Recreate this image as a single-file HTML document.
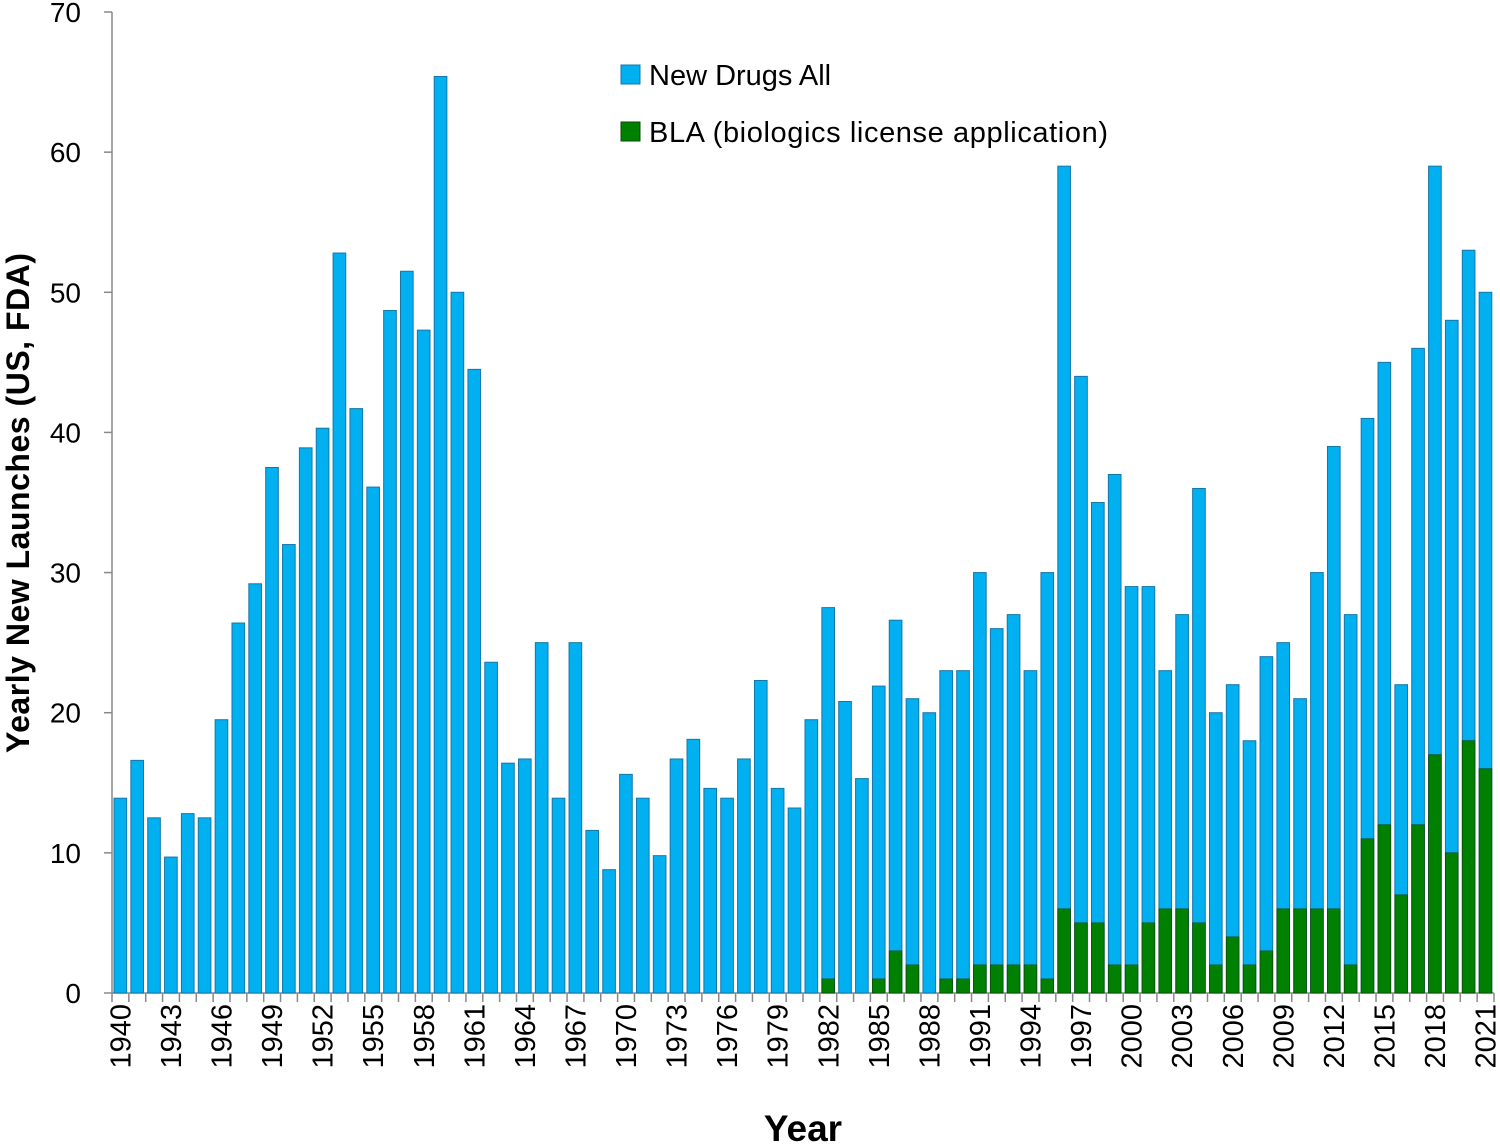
<!DOCTYPE html>
<html><head><meta charset="utf-8"><style>
body{margin:0;background:#fff}
svg text{font-family:"Liberation Sans","DejaVu Sans",sans-serif;fill:#000}
</style></head><body>
<svg id="chart" width="1500" height="1143" xmlns="http://www.w3.org/2000/svg">
<g id="axes"></g><g id="bars"></g>
<g>
<rect x="621" y="65" width="19" height="19" fill="#00B0F0" stroke="#1577a8" stroke-width="1"/>
<text x="649" y="85" font-size="29">New Drugs All</text>
<rect x="621" y="122" width="19" height="19" fill="#008000" stroke="#0a4a0a" stroke-width="1"/>
<text x="649" y="142" font-size="29" textLength="459">BLA (biologics license application)</text>
</g>
<text transform="translate(29,503) rotate(-90)" text-anchor="middle" font-size="32" font-weight="bold" textLength="500">Yearly New Launches (US, FDA)</text>
<text x="803" y="1141" text-anchor="middle" font-size="37" font-weight="bold">Year</text>
</svg>
<script>
const years=[];for(let y=1940;y<=2021;y++)years.push(y);
const allDrugs=[13.9,16.6,12.5,9.7,12.8,12.5,19.5,26.4,29.2,37.5,32,38.9,40.3,52.8,41.7,36.1,48.7,51.5,47.3,65.4,50,44.5,23.6,16.4,16.7,25,13.9,25,11.6,8.8,15.6,13.9,9.8,16.7,18.1,14.6,13.9,16.7,22.3,14.6,13.2,19.5,27.5,20.8,15.3,21.9,26.6,21,20,23,23,30,26,27,23,30,59,44,35,37,29,29,23,27,36,20,22,18,24,25,21,30,39,27,41,45,22,46,59,48,53,50];
const blaDrugs=[0,0,0,0,0,0,0,0,0,0,0,0,0,0,0,0,0,0,0,0,0,0,0,0,0,0,0,0,0,0,0,0,0,0,0,0,0,0,0,0,0,0,1,0,0,1,3,2,0,1,1,2,2,2,2,1,6,5,5,2,2,5,6,6,5,2,4,2,3,6,6,6,6,2,11,12,7,12,17,10,18,16];
const yTicks=[0,10,20,30,40,50,60,70];
const NS="http://www.w3.org/2000/svg";
const X0=112,X1=1494,Y0=993,Y1=12,YMAX=70;
const slot=(X1-X0)/years.length;
const xs=i=>X0+i*slot;
const ys=v=>Y0-(v/YMAX)*(Y0-Y1);
function mk(t,a,p){const e=document.createElementNS(NS,t);for(const k in a)e.setAttribute(k,a[k]);p.appendChild(e);return e;}
const ax=document.getElementById('axes'),bg=document.getElementById('bars');
let l=mk('line',{x1:X0,y1:Y1,x2:X0,y2:Y0,stroke:'#888','stroke-width':1.5},ax);


l=mk('line',{x1:X0,y1:Y0,x2:X1,y2:Y0,stroke:'#888','stroke-width':1.5},ax);


yTicks.forEach(v=>{
 const t=mk('line',{x1:X0-8,x2:X0,y1:ys(v),y2:ys(v),stroke:'#888','stroke-width':1.5},ax);
 
 
 const tx=mk('text',{x:81,y:ys(v)+10,'text-anchor':'end','font-size':28},ax);
 tx.textContent=v;
 
 
});
for(let i=0;i<=years.length;i++){
 const t=mk('line',{x1:xs(i),x2:xs(i),y1:Y0,y2:Y0+9,stroke:'#888','stroke-width':1.5},ax);
 
 
}
years.forEach((yr,i)=>{
 const bx=xs(i)+2,bw=slot-4.2;
 const b=mk('rect',{x:bx,y:ys(allDrugs[i]),width:bw,height:Y0-ys(allDrugs[i]),fill:'#00B0F0',stroke:'#1577a8','stroke-width':1},bg);
 
 
 if(blaDrugs[i]>0){
  const g=mk('rect',{x:bx,y:ys(blaDrugs[i]),width:bw,height:Y0-ys(blaDrugs[i]),fill:'#008000',stroke:'#0a4a0a','stroke-width':0.8},bg);
  
  
 }
 if((yr-1940)%3===0){
  const cx=xs(i)+slot/2;
  const t=mk('text',{transform:`translate(${cx+10},1004) rotate(-90)`,'text-anchor':'end','font-size':29},ax);
  t.textContent=yr;
  
  
 }
});
</script>
</body></html>
